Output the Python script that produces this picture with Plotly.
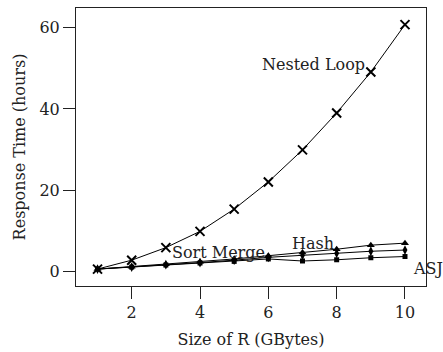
import plotly.graph_objects as go

sizes = [1, 2, 3, 4, 5, 6, 7, 8, 9, 10]
nested_loop = [0.5, 2.7, 5.8, 9.8, 15.3, 22.0, 29.9, 39.0, 49.1, 60.8]
hash_join = [0.5, 1.1, 1.7, 2.3, 3.0, 3.8, 4.6, 5.4, 6.4, 6.9]
sort_merge = [0.5, 1.0, 1.6, 2.1, 2.7, 3.4, 3.9, 4.4, 4.9, 5.2]
asj = [0.5, 1.0, 1.5, 2.0, 2.4, 3.0, 2.5, 2.8, 3.3, 3.6]

labels = ["Nested Loop", "Sort Merge", "Hash", "ASJ"]
label_x = [5.76, 3.12, 6.63, 10.17]
label_y = [51.0, 4.7, 6.9, 0.7]

FONT = "DejaVu Serif"

fig = go.Figure()
line = dict(color="black", width=1)
fig.add_trace(go.Scatter(x=sizes, y=nested_loop, mode="lines+markers", line=line,
                         marker=dict(symbol="x-thin", size=9, line=dict(color="black", width=2))))
fig.add_trace(go.Scatter(x=sizes, y=hash_join, mode="lines+markers", line=line,
                         marker=dict(symbol="triangle-up", size=7, color="black")))
fig.add_trace(go.Scatter(x=sizes, y=sort_merge, mode="lines+markers", line=line,
                         marker=dict(symbol="diamond-tall", size=7, color="black")))
fig.add_trace(go.Scatter(x=sizes, y=asj, mode="lines+markers", line=line,
                         marker=dict(symbol="square", size=5, color="black")))

for t, x, y in zip(labels, label_x, label_y):
    fig.add_annotation(x=x, y=y, text=t, showarrow=False, xanchor="left", yanchor="middle",
                       font=dict(family=FONT, size=16, color="#222"))

axis_common = dict(showgrid=False, zeroline=False, showline=True, linecolor="#222", linewidth=1,
                   mirror=True, ticks="outside", ticklen=12, tickcolor="#222", tickwidth=1,
                   tickfont=dict(family=FONT, size=16, color="#222"))
fig.update_xaxes(range=[0.37, 10.615], tickvals=[2, 4, 6, 8, 10],
                 title=dict(text="Size of R (GBytes)", font=dict(family=FONT, size=16, color="#222"), standoff=12),
                 **axis_common)
fig.update_yaxes(range=[-3.67, 64.9], tickvals=[0, 20, 40, 60],
                 title=dict(text="Response Time (hours)", font=dict(family=FONT, size=16, color="#222"), standoff=9),
                 **axis_common)
fig.update_layout(width=443, height=352, margin=dict(l=76, r=17, t=7, b=65),
                  plot_bgcolor="white", paper_bgcolor="white", showlegend=False)
fig.write_html("out.html")
